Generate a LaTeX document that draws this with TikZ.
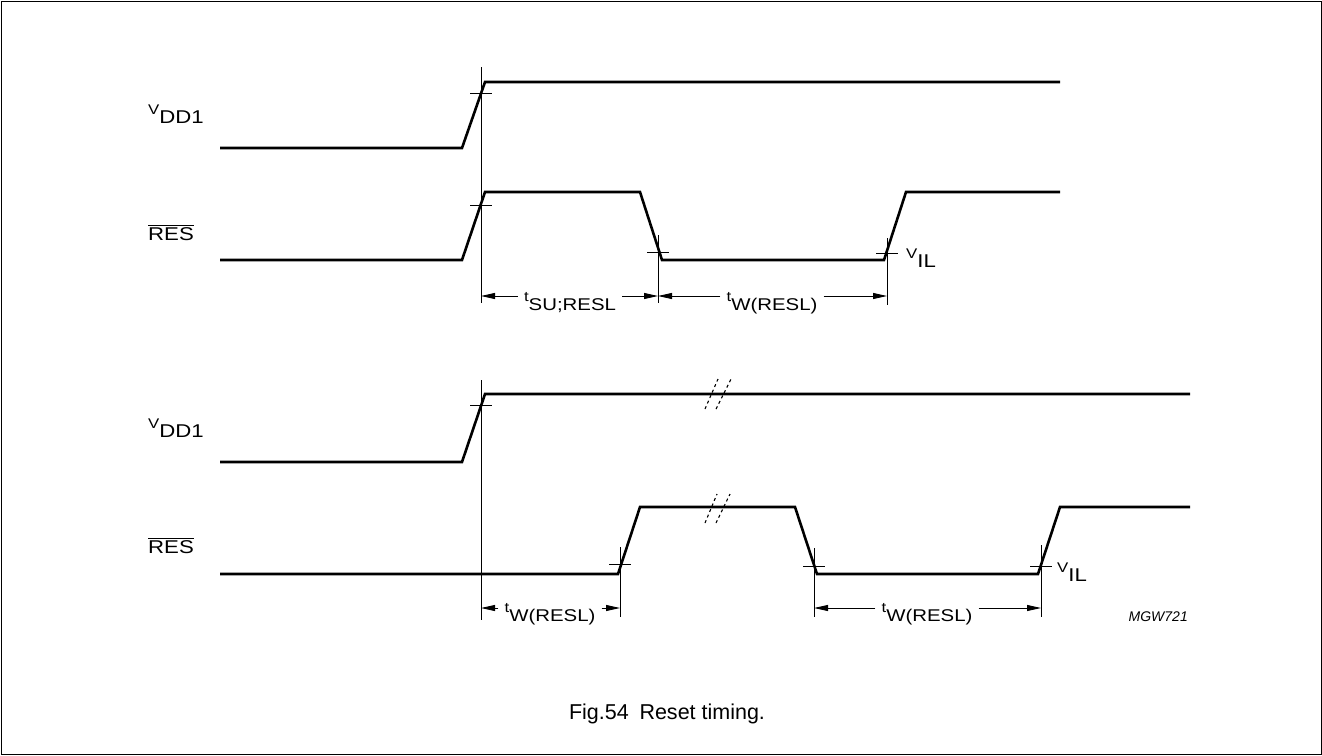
\documentclass[tikz,border=0pt]{standalone}
\usepackage{fontspec}
\setmainfont{Liberation Sans}
\newfontfamily\lblfont[FakeStretch=1.2]{Liberation Sans}
\usetikzlibrary{arrows.meta}
\newcommand{\sglabel}[2]{\raisebox{8.5pt}{\fontsize{14}{14}\selectfont #1}#2}
\newcommand{\ovltext}[1]{$\overline{\hbox{#1}}$}
\begin{document}
\begin{tikzpicture}[x=1pt,y=-1pt,
  wave/.style={line width=2.6pt},
  thin/.style={line width=0.9pt},
  tick/.style={line width=0.9pt},
  brk/.style={line width=1.1pt,dash pattern=on 3pt off 3pt},
  dim/.style={line width=0.9pt,-{Triangle[length=14pt,width=6pt]}},
  lbl/.style={font=\lblfont\fontsize{18.5}{18.5}\selectfont,inner sep=0pt},
  dimlbl/.style={font=\lblfont\fontsize{17}{17}\selectfont,inner xsep=6pt,inner ysep=0pt,anchor=base},
  frame/.style={line width=1pt}]
\useasboundingbox (0,0) rectangle (1322,755);
\draw[frame] (1,1) rectangle (1321,754);

% ---- top diagram ----
\draw[wave] (220,148) -- (462,148) -- (485,82) -- (1060,82);
\draw[wave] (220,260) -- (462,260) -- (485,192) -- (640,192) -- (662,260) -- (884,260) -- (906,192) -- (1060,192);
\node[lbl,anchor=base west] (vdda) at (148,123) {\sglabel{V}{DD1}};
\node[lbl,anchor=base west] (resa) at (148,240) {\ovltext{RES}};
\node[lbl,anchor=base west] (vila) at (906,267) {\sglabel{V}{IL}};

\coordinate (a1t) at (481,67);  \coordinate (a1b) at (481,303);
\coordinate (a2t) at (658,235); \coordinate (a2b) at (658,303);
\coordinate (a3t) at (887,238); \coordinate (a3b) at (887,305);
\draw[thin] (a1t) -- (a1b);
\draw[thin] (a2t) -- (a2b);
\draw[thin] (a3t) -- (a3b);
\draw[tick] (470,93) -- (492,93);
\draw[tick] (470,205) -- (492,205);
\draw[tick] (647,252) -- (669,252);
\draw[tick] (876,253) -- (898,253);

\coordinate (d1l) at (481,296); \coordinate (d1r) at (658,296);
\coordinate (d2l) at (658,296); \coordinate (d2r) at (887,296);
\node[dimlbl] (tsu) at (570,310) {\sglabel{t}{SU;RESL}};
\node[dimlbl] (twa) at (772,310) {\sglabel{t}{W(RESL)}};
\draw[dim] (tsu.west |- d1l) -- (d1l);
\draw[dim] (tsu.east |- d1r) -- (d1r);
\draw[dim] (twa.west |- d2l) -- (d2l);
\draw[dim] (twa.east |- d2r) -- (d2r);

% ---- bottom diagram ----
\draw[wave] (220,462) -- (462,462) -- (485,394) -- (1190,394);
\draw[wave] (220,574) -- (618,574) -- (640,507) -- (795,507) -- (817,574) -- (1038,574) -- (1060,507) -- (1190,507);
\draw[brk] (705,409) -- (718,379);
\draw[brk] (716,409) -- (731,379);
\draw[brk] (705,523) -- (717,494);
\draw[brk] (716,523) -- (730,494);
\node[lbl,anchor=base west] (vddb) at (148,437) {\sglabel{V}{DD1}};
\node[lbl,anchor=base west] (resb) at (148,553) {\ovltext{RES}};
\node[lbl,anchor=base west] (vilb) at (1057,581) {\sglabel{V}{IL}};

\coordinate (b1t) at (481,380);  \coordinate (b1b) at (481,620);
\coordinate (b2t) at (620,547);  \coordinate (b2b) at (620,617);
\coordinate (b3t) at (814,548);  \coordinate (b3b) at (814,617);
\coordinate (b4t) at (1041,545); \coordinate (b4b) at (1041,617);
\draw[thin] (b1t) -- (b1b);
\draw[thin] (b2t) -- (b2b);
\draw[thin] (b3t) -- (b3b);
\draw[thin] (b4t) -- (b4b);
\draw[tick] (470,405) -- (492,405);
\draw[tick] (609,564) -- (631,564);
\draw[tick] (803,566) -- (825,566);
\draw[tick] (1030,566) -- (1052,566);

\coordinate (e1l) at (481,608); \coordinate (e1r) at (620,608);
\coordinate (e2l) at (814,608); \coordinate (e2r) at (1041,608);
\node[dimlbl] (twb) at (550,621) {\sglabel{t}{W(RESL)}};
\node[dimlbl] (twc) at (927,621) {\sglabel{t}{W(RESL)}};
\draw[dim] (twb.west |- e1l) -- (e1l);
\draw[dim] (twb.east |- e1r) -- (e1r);
\draw[dim] (twc.west |- e2l) -- (e2l);
\draw[dim] (twc.east |- e2r) -- (e2r);

\node[anchor=base east,inner sep=0pt,font=\fontsize{14}{14}\selectfont\itshape] (mgw) at (1188,621) {MGW721};
\node[anchor=base,inner sep=0pt,font=\fontsize{21.5}{21.5}\selectfont] (cap) at (667,719) {Fig.54\enspace Reset timing.};
\end{tikzpicture}
\end{document}
